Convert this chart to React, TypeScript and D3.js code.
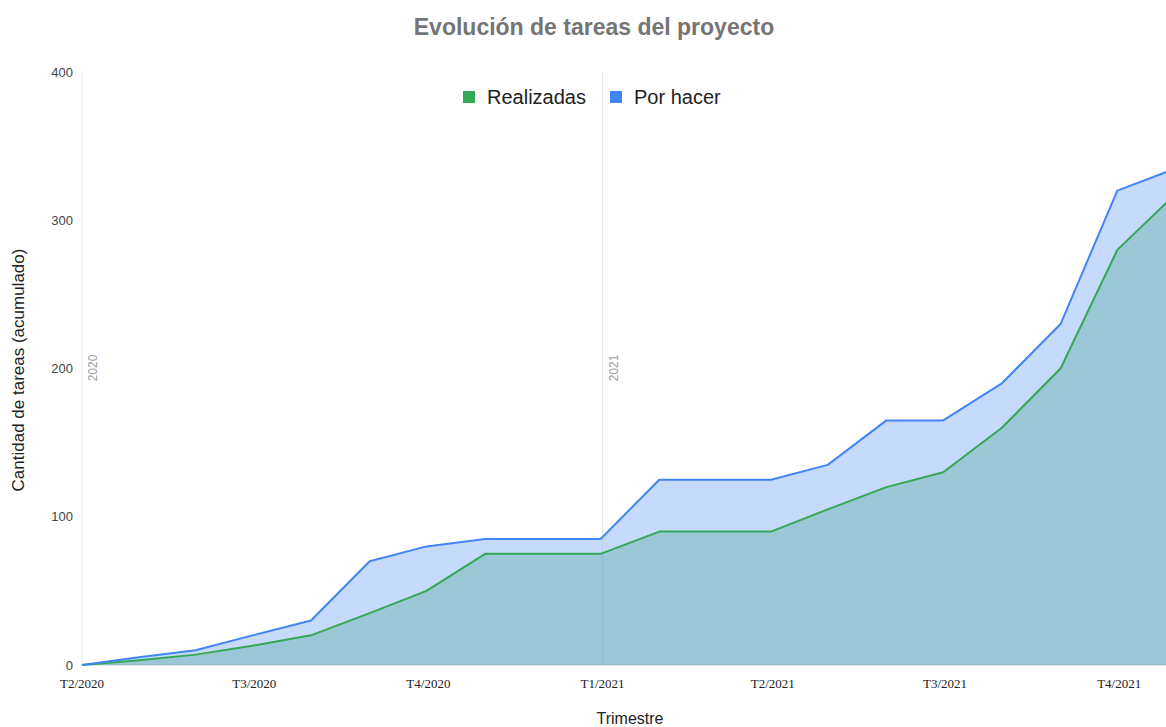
import React, { useEffect, useRef } from 'react';
import * as d3 from 'd3';

// Fechas de corte (fin de mes) y valores acumulados
const fechas = [
  '2020-04-01', '2020-04-30', '2020-05-31', '2020-06-30', '2020-07-31',
  '2020-08-31', '2020-09-30', '2020-10-31', '2020-11-30', '2020-12-31',
  '2021-01-31', '2021-02-28', '2021-03-31', '2021-04-30', '2021-05-31',
  '2021-06-30', '2021-07-31', '2021-08-31', '2021-09-30', '2021-10-31',
];
const realizadas = [0, 3, 7, 13, 20, 35, 50, 75, 75, 75, 90, 90, 90, 105, 120, 130, 160, 200, 280, 318];
const porHacer = [0, 5, 10, 20, 30, 70, 80, 85, 85, 85, 125, 125, 125, 135, 165, 165, 190, 230, 320, 335];

const trimestres = ['2020-04-01', '2020-07-01', '2020-10-01', '2021-01-01', '2021-04-01', '2021-07-01', '2021-10-01'];
const trimestreLabels = ['T2/2020', 'T3/2020', 'T4/2020', 'T1/2021', 'T2/2021', 'T3/2021', 'T4/2021'];
const anios = ['2020-04-01', '2021-01-01'];
const anioLabels = ['2020', '2021'];
const yTicks = [0, 100, 200, 300, 400];

const series = [
  { name: 'Realizadas', values: realizadas, color: '#34A853' },
  { name: 'Por hacer', values: porHacer, color: '#4285F4' },
];

const W = 1166;
const H = 727;
const SANS = '"Liberation Sans", Arial, sans-serif';

export default function App() {
  const ref = useRef<SVGSVGElement>(null);

  useEffect(() => {
    const svg = d3.select(ref.current);
    svg.selectAll('*').remove();

    const parse = d3.utcParse('%Y-%m-%d');
    const dates = fechas.map(f => parse(f) as Date);

    // Horizontal scale (time), right end runs past the visible edge
    const x = d3.scaleUtc()
      .domain([parse('2020-04-01') as Date, parse('2021-10-31') as Date])
      .range([82, 1176]);

    const y = d3.scaleLinear()
      .domain([0, 400])
      .range([665, 72]);

    // baseline
    svg.append('line')
      .attr('x1', x.range()[0]).attr('x2', W)
      .attr('y1', y(0)).attr('y2', y(0))
      .attr('stroke', '#cccccc');

    // year guide lines
    svg.selectAll('.anio-line')
      .data(anios)
      .enter()
      .append('line')
      .attr('x1', d => x(parse(d) as Date))
      .attr('x2', d => x(parse(d) as Date))
      .attr('y1', y(400))
      .attr('y2', y(0))
      .attr('stroke', '#ebebeb');

    const area = (vals: number[]) => d3.area<number>()
      .x((_, i) => x(dates[i]))
      .y0(y(0))
      .y1(d => y(d))(vals);

    const line = (vals: number[]) => d3.line<number>()
      .x((_, i) => x(dates[i]))
      .y(d => y(d))(vals);

    series.forEach(s => {
      svg.append('path')
        .attr('d', area(s.values))
        .attr('fill', s.color)
        .attr('fill-opacity', 0.3);
    });

    series.forEach(s => {
      svg.append('path')
        .attr('d', line(s.values))
        .attr('fill', 'none')
        .attr('stroke', s.color)
        .attr('stroke-width', 2)
        .attr('stroke-linejoin', 'round');
    });

    // year labels
    anios.forEach((a, i) => {
      const px = x(parse(a) as Date) + 15;
      svg.append('text')
        .attr('transform', `translate(${px}, ${368}) rotate(-90)`)
        .attr('text-anchor', 'middle')
        .attr('font-family', SANS)
        .attr('font-size', 12)
        .attr('fill', '#9e9e9e')
        .text(anioLabels[i]);
    });

    // y tick labels
    svg.selectAll('.ytick')
      .data(yTicks)
      .enter()
      .append('text')
      .attr('x', 73)
      .attr('y', d => y(d))
      .attr('dy', '0.35em')
      .attr('text-anchor', 'end')
      .attr('font-family', SANS)
      .attr('font-size', 13)
      .attr('fill', '#444444')
      .text(d => d);

    // x tick labels
    svg.selectAll('.xtick')
      .data(trimestres)
      .enter()
      .append('text')
      .attr('x', d => x(parse(d) as Date))
      .attr('y', 688)
      .attr('text-anchor', 'middle')
      .attr('font-family', '"Liberation Serif", "Times New Roman", serif')
      .attr('font-size', 13)
      .attr('fill', '#222222')
      .text((_, i) => trimestreLabels[i]);

    // axis titles
    svg.append('text')
      .attr('x', 630)
      .attr('y', 724)
      .attr('text-anchor', 'middle')
      .attr('font-family', SANS)
      .attr('font-size', 16)
      .attr('fill', '#222222')
      .text('Trimestre');

    svg.append('text')
      .attr('transform', 'translate(24, 370) rotate(-90)')
      .attr('text-anchor', 'middle')
      .attr('font-family', SANS)
      .attr('font-size', 17)
      .attr('fill', '#222222')
      .text('Cantidad de tareas (acumulado)');

    // legend
    const legendX = [463, 610];
    series.forEach((s, i) => {
      svg.append('rect')
        .attr('x', legendX[i]).attr('y', 91)
        .attr('width', 12).attr('height', 12)
        .attr('fill', s.color);
      svg.append('text')
        .attr('x', legendX[i] + 24)
        .attr('y', 104)
        .attr('font-family', SANS)
        .attr('font-size', 20)
        .attr('fill', '#222222')
        .text(s.name);
    });

    // title
    svg.append('text')
      .attr('x', 594)
      .attr('y', 35)
      .attr('text-anchor', 'middle')
      .attr('font-family', SANS)
      .attr('font-size', 23)
      .attr('font-weight', 'bold')
      .attr('fill', '#757575')
      .text('Evolución de tareas del proyecto');
  }, []);

  return (
    <div style={{ position: 'absolute', left: 0, top: 0 }}>
      <svg ref={ref} width={W} height={H} style={{ display: 'block', background: '#fff' }} />
    </div>
  );
}
